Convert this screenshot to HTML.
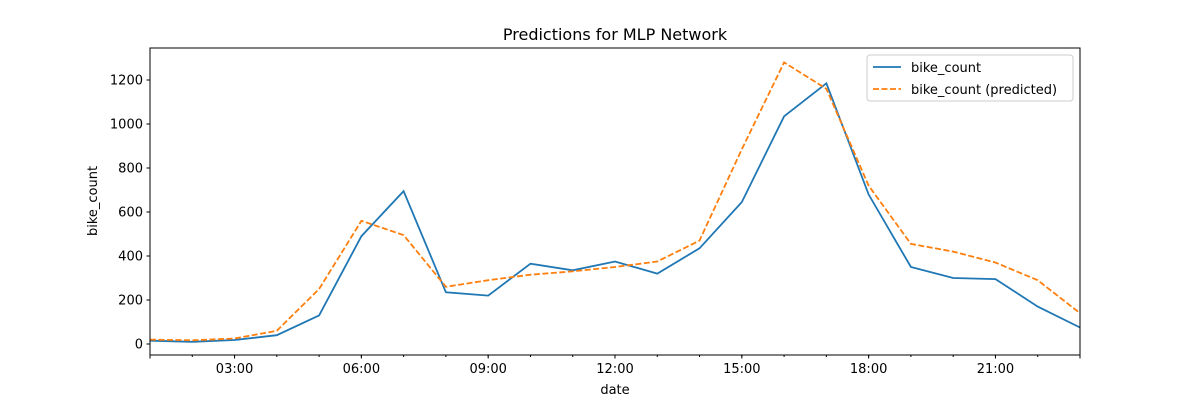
<!DOCTYPE html>
<html><head><meta charset="utf-8"><style>
body{margin:0;background:#fff}
text{font-family:"DejaVu Sans","Liberation Sans",sans-serif}
</style></head><body>
<svg id="chart" width="1200" height="400" xmlns="http://www.w3.org/2000/svg">
<text x="615" y="40" font-size="16" text-anchor="middle">Predictions for MLP Network</text>
<g id="plot"></g>
<text x="615" y="394" font-size="13" text-anchor="middle">date</text>
<text transform="translate(97,201) rotate(-90)" font-size="13" text-anchor="middle">bike_count</text>
<g>
<rect x="867" y="55" width="206" height="46" fill="#fff" stroke="#ccc" rx="3"/>
<line x1="873" y1="67" x2="901" y2="67" stroke="#1f77b4" stroke-width="1.8"/>
<text x="911" y="72" font-size="13">bike_count</text>
<line x1="873" y1="89" x2="901" y2="89" stroke="#ff7f0e" stroke-width="1.8" stroke-dasharray="6,2.5"/>
<text x="911" y="94" font-size="13">bike_count (predicted)</text>
</g>
</svg>
<script>
const hours=[1,2,3,4,5,6,7,8,9,10,11,12,13,14,15,16,17,18,19,20,21,22,23];
const actual=[15,10,18,40,130,490,695,235,220,365,335,375,320,435,645,1035,1185,680,350,300,295,170,75];
const predicted=[20,17,25,60,250,560,495,260,290,315,330,350,375,470,885,1280,1160,720,455,420,370,290,140];
const yTicks=[0,200,400,600,800,1000,1200];
const xTickHours=[3,6,9,12,15,18,21];
const xTickLabels=["03:00","06:00","09:00","12:00","15:00","18:00","21:00"];
const L=150,R=1080,T=48,B=355;
const x=h=>L+(h-1)*(R-L)/22;
const y=v=>344-v*0.22;
const ns="http://www.w3.org/2000/svg";
const g=document.getElementById('plot');
function mk(t,a){const e=document.createElementNS(ns,t);for(const k in a)e.setAttribute(k,a[k]);g.appendChild(e);return e;}
function path(vals,color,dash,name){
  const d=vals.map((v,i)=>(i?'L':'M')+x(hours[i]).toFixed(1)+','+y(v).toFixed(1)).join('');
  const p=mk('path',{d:d,fill:'none',stroke:color,'stroke-width':1.8});
  if(dash)p.setAttribute('stroke-dasharray',dash);
  
  
}
path(actual,'#1f77b4',null,'series-actual');
path(predicted,'#ff7f0e','6,2.5','series-predicted');
yTicks.forEach(v=>{
  mk('line',{x1:L-3.5,x2:L,y1:y(v),y2:y(v),stroke:'#000'});
  const t=mk('text',{x:L-7,y:y(v)+4.5,'font-size':13,'text-anchor':'end'});
  t.textContent=v;
  
  
});
hours.forEach(h=>mk('line',{x1:x(h),x2:x(h),y1:B,y2:B+2,stroke:'#000'}));
mk('line',{x1:L,x2:L,y1:B,y2:B+3.5,stroke:'#000'});
mk('line',{x1:R,x2:R,y1:B,y2:B+3.5,stroke:'#000'});
xTickHours.forEach((h,i)=>{
  mk('line',{x1:x(h),x2:x(h),y1:B,y2:B+3.5,stroke:'#000'});
  const t=mk('text',{x:x(h),y:B+18,'font-size':13,'text-anchor':'middle'});
  t.textContent=xTickLabels[i];
  
  
});
const f=mk('rect',{x:L,y:T,width:R-L,height:B-T,fill:'none',stroke:'#000','stroke-width':1});


</script>
</body></html>
